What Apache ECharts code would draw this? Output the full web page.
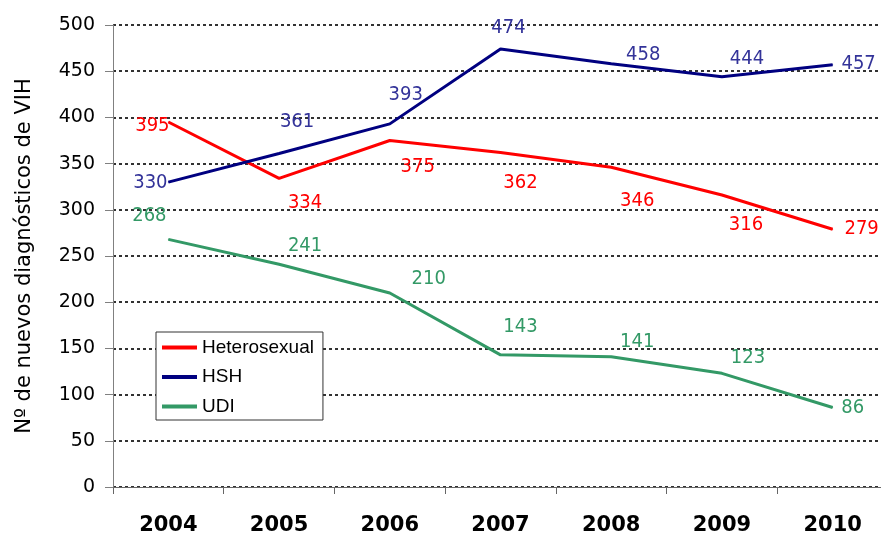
<!DOCTYPE html>
<html>
<head>
<meta charset="utf-8">
<script src="https://cdn.jsdelivr.net/npm/echarts@6/dist/echarts.min.js"></script>
<style>
  html, body { margin: 0; padding: 0; background: #fff; }
  #main { width: 881px; height: 534px; }
</style>
</head>
<body>
<div id="main"></div>
<script>
var years = ['2004', '2005', '2006', '2007', '2008', '2009', '2010'];
var hetero = [395, 334, 375, 362, 346, 316, 279];
var hsh = [330, 361, 393, 474, 458, 444, 457];
var udi = [268, 241, 210, 143, 141, 123, 86];
var yTicks = [0, 50, 100, 150, 200, 250, 300, 350, 400, 450, 500];

// label offsets (label centre relative to the point)
var heteroOffsets = [[-16, 4], [26, 24], [28, 26], [20, 30], [26, 34], [24, 30], [29, 0]];
var hshOffsets = [[-18, 1], [18, -32], [16, -29], [8, -21], [32, -9], [25, -18], [26, -1]];
var udiOffsets = [[-19, -24], [26, -19], [39, -14], [20, -28], [26, -15], [26, -16], [20, 0]];

function withLabels(values, offsets, color) {
    return values.map(function(v, i) {
        return {
            value: v,
            label: {
                show: true,
                position: 'inside',
                offset: offsets[i],
                color: color,
                fontFamily: '"DejaVu Sans Condensed", "DejaVu Sans"',
                fontSize: 20
            }
        };
    });
}

function makeSeries(name, values, offsets, lineColor, labelColor) {
    return {
        name: name,
        type: 'line',
        data: withLabels(values, offsets, labelColor),
        symbol: 'circle',
        symbolSize: 1,
        showSymbol: true,
        itemStyle: { color: lineColor },
        lineStyle: { color: lineColor, width: 3 },
        emphasis: { disabled: true },
        animation: false
    };
}

var myChart = echarts.init(document.getElementById('main'));
var option = {
    backgroundColor: '#fff',
    grid: {
        left: 113,
        top: 25,
        bottom: 47,
        width: 775,
        outerBoundsMode: 'none'
    },
    legend: {
        orient: 'vertical',
        left: 156,
        top: 332,
        padding: [6, 9, 4, 6],
        itemGap: 10.5,
        itemWidth: 35,
        itemHeight: 4,
        icon: 'rect',
        borderColor: '#333',
        borderWidth: 1,
        backgroundColor: '#fff',
        textStyle: { fontFamily: 'Liberation Sans', fontSize: 19, color: '#000' },
        data: ['Heterosexual', 'HSH', 'UDI']
    },
    xAxis: {
        type: 'category',
        data: years,
        boundaryGap: true,
        axisLine: { lineStyle: { color: '#666', width: 1 } },
        axisTick: { show: true, length: 7, lineStyle: { color: '#666' } },
        axisLabel: {
            margin: 28,
            color: '#000',
            fontFamily: 'DejaVu Sans',
            fontWeight: 'bold',
            fontSize: 21
        },
        splitLine: { show: false }
    },
    yAxis: {
        type: 'value',
        min: yTicks[0],
        max: yTicks[yTicks.length - 1],
        interval: 50,
        name: 'Nº de nuevos diagnósticos de VIH',
        nameLocation: 'middle',
        nameGap: 78,
        nameTextStyle: { fontFamily: 'DejaVu Sans', fontSize: 21, color: '#000' },
        axisLine: { show: true, lineStyle: { color: '#808080', width: 1 } },
        axisTick: { show: true, length: 8, lineStyle: { color: '#808080' } },
        axisLabel: {
            margin: 18,
            color: '#000',
            fontFamily: 'DejaVu Sans',
            fontSize: 19
        },
        splitLine: {
            show: true,
            lineStyle: { color: '#000', width: 1.6, type: [3, 3] }
        }
    },
    series: [
        makeSeries('Heterosexual', hetero, heteroOffsets, '#ff0000', '#ff0000'),
        makeSeries('HSH', hsh, hshOffsets, '#000080', '#333399'),
        makeSeries('UDI', udi, udiOffsets, '#339966', '#339966')
    ]
};
myChart.setOption(option);
</script>
</body>
</html>
